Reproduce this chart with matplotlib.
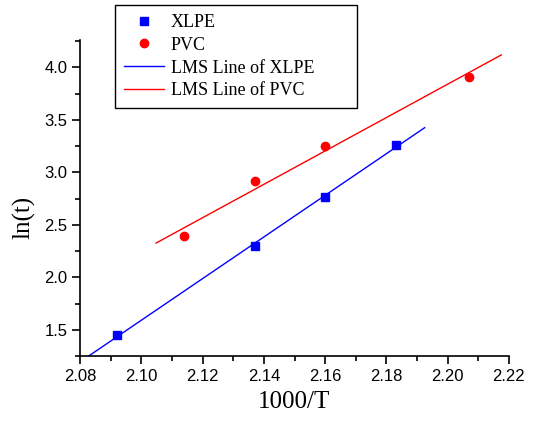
import numpy as np
import matplotlib
matplotlib.use('Agg')
import matplotlib.pyplot as plt
from matplotlib.ticker import MultipleLocator, FormatStrFormatter

# Data
xlpe_x = [2.092, 2.137, 2.160, 2.183]
xlpe_y = [1.45, 2.30, 2.77, 3.26]
pvc_x = [2.114, 2.137, 2.160, 2.207]
pvc_y = [2.39, 2.92, 3.25, 3.91]

# extent of the fitted lines
xlpe_fit_x = [2.080, 2.1925]
pvc_fit_x = [2.1048, 2.2175]

fig = plt.figure(figsize=(5.34, 4.23), dpi=100)
ax = fig.add_axes([0.150, 0.158, 0.803, 0.747])

kx = np.polyfit(xlpe_x, xlpe_y, 1)
kp = np.polyfit(pvc_x, pvc_y, 1)

ax.plot(xlpe_x, xlpe_y, 's', color='#0000FF', markersize=6, label='XLPE', zorder=3)
ax.plot(pvc_x, pvc_y, 'o', color='#FF0000', markersize=6, label='PVC', zorder=3)
ax.plot(xlpe_fit_x, np.polyval(kx, xlpe_fit_x), '-', color='#0000FF', linewidth=1,
        label='LMS Line of XLPE')
ax.plot(pvc_fit_x, np.polyval(kp, pvc_fit_x), '-', color='#FF0000', linewidth=1,
        label='LMS Line of PVC')

ax.set_xlim(2.08, 2.22)
ax.set_ylim(1.25, 4.26)
ax.xaxis.set_major_locator(MultipleLocator(0.02))
ax.xaxis.set_minor_locator(MultipleLocator(0.01))
ax.yaxis.set_major_locator(MultipleLocator(0.5))
ax.yaxis.set_minor_locator(MultipleLocator(0.25))
ax.xaxis.set_major_formatter(FormatStrFormatter('%.2f'))
ax.yaxis.set_major_formatter(FormatStrFormatter('%.1f'))

ax.spines['top'].set_visible(False)
ax.spines['right'].set_visible(False)
for s in ['left', 'bottom']:
    ax.spines[s].set_linewidth(1.2)
ax.tick_params(which='major', direction='out', length=6, width=1.2,
               labelsize=12, pad=3)
ax.tick_params(which='minor', direction='out', length=3.5, width=1.2)
for lab in ax.get_xticklabels() + ax.get_yticklabels():
    lab.set_family('Liberation Sans')

ax.set_xlabel('1000/T', family='Liberation Serif', fontsize=18, labelpad=5)
ax.set_ylabel('ln(t)', family='Liberation Serif', fontsize=18)
ax.yaxis.set_label_coords(-0.105, 0.44)

# legend box sits above the axes, wider than its text
leg = ax.legend(loc='upper left',
                bbox_to_anchor=(115/534, 1 - 106/423, 242/534, 101/423),
                bbox_transform=fig.transFigure, mode='expand',
                fancybox=False, framealpha=1, edgecolor='black',
                prop={'family': 'Liberation Serif', 'size': 13},
                handlelength=2.2, handletextpad=0.4, labelspacing=0.32,
                borderpad=0.5, borderaxespad=0)
leg.get_frame().set_linewidth(1.0)

plt.savefig('out.png', dpi=100)
